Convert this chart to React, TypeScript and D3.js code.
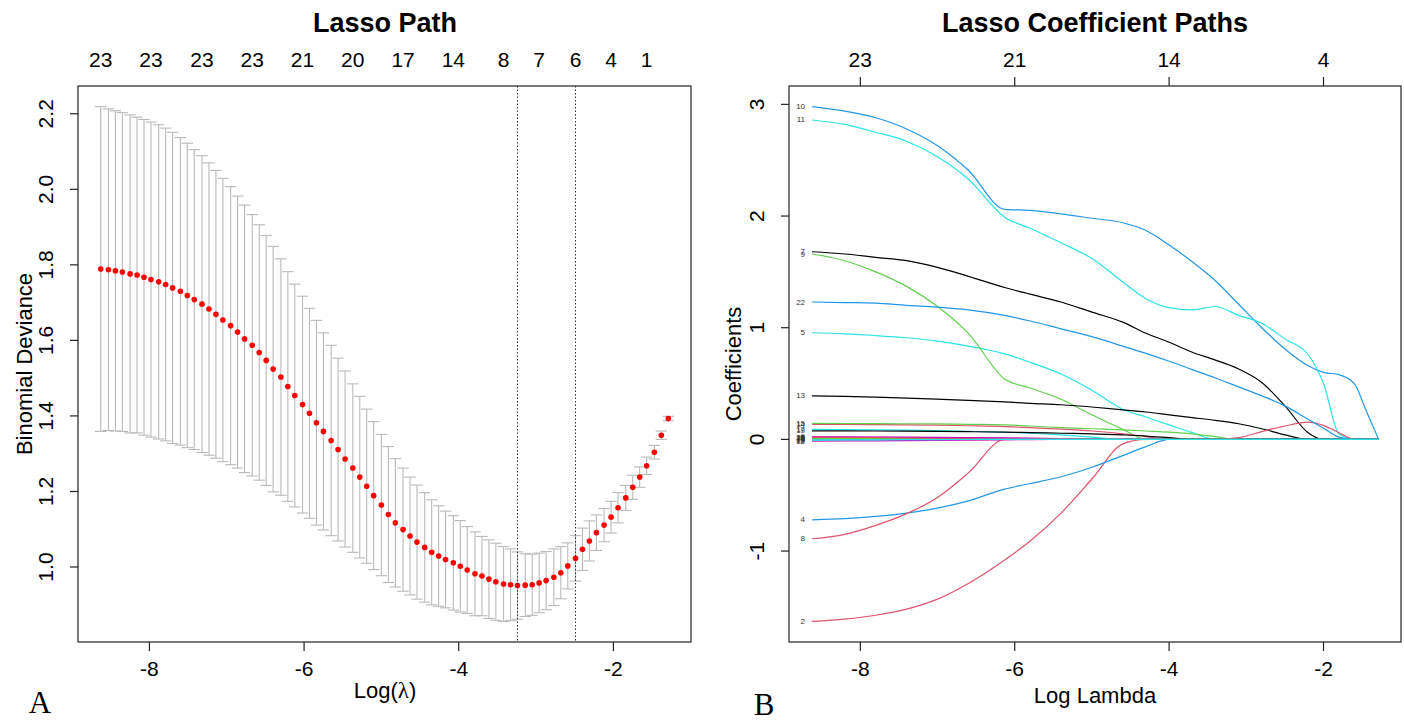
import React, { useRef, useEffect } from 'react';
import * as d3 from 'd3';

// ---- Panel A: cross-validated binomial deviance ----
const logLambda = [
  -8.63, -8.53, -8.44, -8.35, -8.25, -8.16, -8.07, -7.98, -7.88, -7.79,
  -7.70, -7.60, -7.51, -7.42, -7.32, -7.23, -7.14, -7.05, -6.95, -6.86,
  -6.77, -6.67, -6.58, -6.49, -6.40, -6.30, -6.21, -6.12, -6.02, -5.93,
  -5.84, -5.75, -5.65, -5.56, -5.47, -5.37, -5.28, -5.19, -5.10, -5.00,
  -4.91, -4.82, -4.72, -4.63, -4.54, -4.44, -4.35, -4.26, -4.17, -4.07,
  -3.98, -3.89, -3.79, -3.70, -3.61, -3.52, -3.42, -3.33, -3.24, -3.14,
  -3.05, -2.96, -2.87, -2.77, -2.68, -2.59, -2.49, -2.40, -2.31, -2.22,
  -2.12, -2.03, -1.94, -1.84, -1.75, -1.66, -1.57, -1.47, -1.38, -1.29,
];
const cvMean = [
  1.789, 1.787, 1.784, 1.781, 1.776, 1.773, 1.767, 1.761, 1.755, 1.748,
  1.739, 1.730, 1.719, 1.708, 1.696, 1.683, 1.669, 1.654, 1.639, 1.622,
  1.604, 1.587, 1.568, 1.547, 1.524, 1.503, 1.478, 1.454, 1.430, 1.407,
  1.382, 1.359, 1.335, 1.311, 1.286, 1.262, 1.238, 1.214, 1.189, 1.164,
  1.139, 1.117, 1.099, 1.082, 1.066, 1.052, 1.039, 1.029, 1.020, 1.011,
  1.002, 0.992, 0.982, 0.976, 0.968, 0.961, 0.955, 0.953, 0.951, 0.952,
  0.953, 0.958, 0.964, 0.973, 0.985, 1.003, 1.023, 1.047, 1.069, 1.091,
  1.111, 1.132, 1.157, 1.183, 1.211, 1.238, 1.268, 1.304, 1.349, 1.393,
];
const cvSd = [
  0.430, 0.426, 0.424, 0.422, 0.421, 0.418, 0.418, 0.417, 0.416, 0.414,
  0.412, 0.407, 0.403, 0.397, 0.393, 0.387, 0.381, 0.375, 0.368, 0.360,
  0.354, 0.346, 0.338, 0.331, 0.325, 0.313, 0.304, 0.295, 0.287, 0.278,
  0.271, 0.261, 0.252, 0.242, 0.233, 0.223, 0.214, 0.204, 0.196, 0.187,
  0.180, 0.170, 0.163, 0.156, 0.151, 0.145, 0.139, 0.133, 0.128, 0.125,
  0.121, 0.115, 0.111, 0.105, 0.104, 0.102, 0.099, 0.095, 0.089, 0.083,
  0.081, 0.079, 0.077, 0.075, 0.069, 0.061, 0.060, 0.056, 0.053, 0.047,
  0.044, 0.042, 0.040, 0.033, 0.032, 0.027, 0.023, 0.018, 0.011, 0.006,
];
const nzLabelIdx = [0, 7, 14, 21, 28, 35, 42, 49, 56, 61, 66, 71, 76];
const nzLabels = ['23', '23', '23', '23', '21', '20', '17', '14', '8', '7', '6', '4', '1'];
const lambdaMinIdx = 58;
const lambda1seIdx = 66;
const devTicks = [1.0, 1.2, 1.4, 1.6, 1.8, 2.0, 2.2];
const xTicks = [-8, -6, -4, -2];

// ---- Panel B: coefficient paths ----
const pathLogLambda = [
  -8.625, -8.2, -7.8, -7.4, -7.0, -6.6, -6.13, -5.8, -5.4, -5.0, -4.6, -4.3,
  -4.0, -3.7, -3.4, -3.1, -2.8, -2.5, -2.2, -2.0, -1.8, -1.6, -1.45, -1.286,
];
const coef1 = [0.012, 0.011, 0.01, 0.008, 0.006, 0.004, 0.002, 0, 0, 0, 0, 0, 0, 0, 0, 0, 0, 0, 0, 0, 0, 0, 0, 0];
const coef2 = [-1.63, -1.61, -1.575, -1.52, -1.43, -1.29, -1.08, -0.91, -0.66, -0.355, -0.04, 0, 0, 0, 0, 0, 0, 0, 0, 0, 0, 0, 0, 0];
const coef3 = [0.009, 0.008, 0.007, 0.005, 0.003, 0.001, 0, 0, 0, 0, 0, 0, 0, 0, 0, 0, 0, 0, 0, 0, 0, 0, 0, 0];
const coef4 = [-0.72, -0.71, -0.69, -0.66, -0.615, -0.55, -0.445, -0.395, -0.335, -0.25, -0.145, -0.065, 0, 0, 0, 0, 0, 0, 0, 0, 0, 0, 0, 0];
const coef5 = [0.955, 0.945, 0.93, 0.91, 0.88, 0.835, 0.765, 0.69, 0.585, 0.44, 0.27, 0.2, 0.13, 0.06, 0, 0, 0, 0, 0, 0, 0, 0, 0, 0];
const coef6 = [0.023, 0.022, 0.021, 0.02, 0.019, 0.017, 0.014, 0.011, 0.007, 0.003, 0, 0, 0, 0, 0, 0, 0, 0, 0, 0, 0, 0, 0, 0];
const coef7 = [1.68, 1.66, 1.63, 1.6, 1.54, 1.46, 1.36, 1.3, 1.23, 1.14, 1.05, 0.95, 0.87, 0.78, 0.71, 0.63, 0.51, 0.3, 0.06, 0, 0, 0, 0, 0];
const coef8 = [-0.89, -0.85, -0.77, -0.665, -0.52, -0.3, 0, 0, 0, 0, 0, 0, 0, 0, 0, 0, 0, 0, 0, 0, 0, 0, 0, 0];
const coef9 = [1.66, 1.6, 1.5, 1.37, 1.19, 0.95, 0.54, 0.46, 0.36, 0.22, 0.09, 0, 0, 0, 0, 0, 0, 0, 0, 0, 0, 0, 0, 0];
const coef10 = [2.98, 2.94, 2.88, 2.78, 2.63, 2.41, 2.06, 2.05, 2.02, 1.98, 1.94, 1.87, 1.74, 1.59, 1.42, 1.21, 1.0, 0.81, 0.66, 0.6, 0.58, 0.5, 0.26, 0];
const coef11 = [2.86, 2.82, 2.75, 2.67, 2.53, 2.33, 1.99, 1.89, 1.76, 1.62, 1.41, 1.26, 1.18, 1.16, 1.19, 1.11, 1.04, 0.9, 0.76, 0.5, 0.05, 0, 0, 0];
const coef12 = [-0.015, -0.014, -0.013, -0.012, -0.01, -0.008, -0.005, -0.002, 0, 0, 0, 0, 0, 0, 0, 0, 0, 0, 0, 0, 0, 0, 0, 0];
const coef13 = [0.39, 0.385, 0.378, 0.37, 0.36, 0.35, 0.335, 0.323, 0.31, 0.29, 0.265, 0.245, 0.22, 0.195, 0.17, 0.14, 0.095, 0.04, 0, 0, 0, 0, 0, 0];
const coef14 = [0.135, 0.134, 0.132, 0.13, 0.127, 0.122, 0.115, 0.105, 0.092, 0.075, 0.05, 0.025, 0, 0, 0, 0, 0, 0, 0, 0, 0, 0, 0, 0];
const coef15 = [0.143, 0.142, 0.141, 0.14, 0.138, 0.135, 0.13, 0.12, 0.105, 0.095, 0.085, 0.075, 0.065, 0.05, 0.025, 0, 0, 0, 0, 0, 0, 0, 0, 0];
const coef16 = [-0.004, -0.003, -0.002, -0.001, 0, 0, 0, 0, 0, 0, 0, 0, 0, 0, 0, 0, 0, 0, 0, 0, 0, 0, 0, 0];
const coef17 = [0.089, 0.088, 0.086, 0.083, 0.079, 0.073, 0.064, 0.055, 0.04, 0.02, 0, 0, 0, 0, 0, 0, 0, 0, 0, 0, 0, 0, 0, 0];
const coef18 = [0.02, 0.019, 0.018, 0.017, 0.015, 0.013, 0.01, 0.007, 0.003, 0, 0, 0, 0, 0, 0, 0, 0, 0, 0, 0, 0, 0, 0, 0];
const coef19 = [0.077, 0.076, 0.075, 0.074, 0.072, 0.069, 0.065, 0.061, 0.055, 0.05, 0.04, 0.03, 0.015, 0, 0, 0, 0, 0, 0, 0, 0, 0, 0, 0];
const coef20 = [0.02, 0.018, 0.015, 0.012, 0.008, 0.003, 0, 0, 0, 0, 0, 0, 0, 0, 0, 0.015, 0.07, 0.12, 0.155, 0.125, 0.06, 0, 0, 0];
const coef21 = [0.005, 0.004, 0.003, 0.002, 0.001, 0, 0, 0, 0, 0, 0, 0, 0, 0, 0, 0, 0, 0, 0, 0, 0, 0, 0, 0];
const coef22 = [1.23, 1.225, 1.22, 1.2, 1.185, 1.16, 1.11, 1.06, 0.99, 0.92, 0.835, 0.77, 0.7, 0.625, 0.55, 0.47, 0.39, 0.3, 0.18, 0.1, 0.02, 0, 0, 0];
const coef23 = [-0.006, -0.005, -0.004, -0.003, -0.002, -0.001, 0, 0, 0, 0, 0, 0, 0, 0, 0, 0, 0, 0, 0, 0, 0, 0, 0, 0];
const coefPaths = [
  coef1, coef2, coef3, coef4, coef5, coef6, coef7, coef8, coef9, coef10, coef11, coef12,
  coef13, coef14, coef15, coef16, coef17, coef18, coef19, coef20, coef21, coef22, coef23,
];
const dfTickAt = [-8, -6, -4, -2];
const dfTickLabels = ['23', '21', '14', '4'];
const coefTicks = [-1, 0, 1, 2, 3];
// R's default palette, cycled like matplot does
const rPalette = ['#000000', '#DF536B', '#61D04F', '#2297E6', '#28E2E5', '#CD0BBC'];

const SANS = "'Liberation Sans', Arial, Helvetica, sans-serif";
const SERIF = "'Liberation Serif', 'Times New Roman', serif";

const LassoFigure = () => {
  const svgRef = useRef(null);

  useEffect(() => {
    const svg = d3.select(svgRef.current);
    svg.selectAll('*').remove();

    const top = 86;
    const bottom = 642;

    // shared x domain, padded 4% like R
    const [lo, hi] = d3.extent(logLambda);
    const pad = (hi - lo) * 0.04;
    const xDomain = [lo - pad, hi + pad];

    const text = (g, x, y, str, size, opts = {}) => {
      const t = g
        .append('text')
        .attr('x', x)
        .attr('y', y)
        .attr('font-family', opts.family || SANS)
        .attr('font-size', size)
        .attr('font-weight', opts.weight || 'normal')
        .attr('fill', opts.fill || '#000')
        .attr('text-anchor', opts.anchor || 'middle')
        .text(str);
      if (opts.rotate) t.attr('transform', `rotate(-90,${x},${y})`).attr('dominant-baseline', 'central');
      return t;
    };

    // ================= Panel A =================
    const gA = svg.append('g');
    const xA = d3.scaleLinear().domain(xDomain).range([78, 691]);
    const upper = cvMean.map((m, i) => m + cvSd[i]);
    const lower = cvMean.map((m, i) => m - cvSd[i]);
    const yLo = d3.min(lower);
    const yHi = d3.max(upper);
    const yPad = (yHi - yLo) * 0.04;
    const yA = d3.scaleLinear().domain([yLo - yPad, yHi + yPad]).range([bottom, top]);

    const barw = (hi - lo) * 0.01;
    const bars = gA.append('g').attr('stroke', '#b9b9b9').attr('stroke-width', 1.1);
    logLambda.forEach((l, i) => {
      bars.append('line').attr('x1', xA(l)).attr('x2', xA(l)).attr('y1', yA(upper[i])).attr('y2', yA(lower[i]));
      bars.append('line').attr('x1', xA(l - barw)).attr('x2', xA(l + barw)).attr('y1', yA(upper[i])).attr('y2', yA(upper[i]));
      bars.append('line').attr('x1', xA(l - barw)).attr('x2', xA(l + barw)).attr('y1', yA(lower[i])).attr('y2', yA(lower[i]));
    });

    gA.append('g')
      .selectAll('circle')
      .data(cvMean)
      .join('circle')
      .attr('cx', (d, i) => xA(logLambda[i]))
      .attr('cy', d => yA(d))
      .attr('r', 2.8)
      .attr('fill', '#ff0000');

    [lambdaMinIdx, lambda1seIdx].forEach(idx => {
      gA.append('line')
        .attr('x1', xA(logLambda[idx]))
        .attr('x2', xA(logLambda[idx]))
        .attr('y1', top)
        .attr('y2', bottom)
        .attr('stroke', '#333')
        .attr('stroke-width', 1)
        .attr('stroke-dasharray', '1.5,2');
    });

    gA.append('rect')
      .attr('x', 78).attr('y', top).attr('width', 691 - 78).attr('height', bottom - top)
      .attr('fill', 'none').attr('stroke', '#222').attr('stroke-width', 1.2);

    xTicks.forEach(t => {
      gA.append('line').attr('x1', xA(t)).attr('x2', xA(t)).attr('y1', bottom).attr('y2', bottom + 9).attr('stroke', '#222').attr('stroke-width', 1.2);
      text(gA, xA(t), 676, String(t), 21);
    });
    devTicks.forEach(t => {
      gA.append('line').attr('x1', 78).attr('x2', 70).attr('y1', yA(t)).attr('y2', yA(t)).attr('stroke', '#222').attr('stroke-width', 1.2);
      text(gA, 46, yA(t), d3.format('.1f')(t), 21, { rotate: true });
    });
    nzLabelIdx.forEach((idx, k) => {
      text(gA, xA(logLambda[idx]), 67, nzLabels[k], 21);
    });

    text(gA, 385, 32, 'Lasso Path', 27, { weight: 'bold' });
    const xl = text(gA, 385, 698, '', 22);
    xl.append('tspan').text('Log(');
    xl.append('tspan').attr('font-family', SERIF).attr('font-size', 23).text('\u03bb');
    xl.append('tspan').text(')');
    text(gA, 24, (top + bottom) / 2, 'Binomial Deviance', 22, { rotate: true });
    text(gA, 40, 713, 'A', 31, { family: SERIF });

    // ================= Panel B =================
    const gB = svg.append('g');
    const xB = d3.scaleLinear().domain(xDomain).range([789, 1401]);
    const allCoef = coefPaths.flat();
    const cLo = d3.min(allCoef);
    const cHi = d3.max(allCoef);
    const cPad = (cHi - cLo) * 0.04;
    const yB = d3.scaleLinear().domain([cLo - cPad, cHi + cPad]).range([bottom, top]);

    const line = d3
      .line()
      .x((d, i) => xB(pathLogLambda[i]))
      .y(d => yB(d))
      .curve(d3.curveMonotoneX);

    coefPaths.forEach((vals, j) => {
      gB.append('path')
        .datum(vals)
        .attr('d', line)
        .attr('fill', 'none')
        .attr('stroke', rPalette[j % rPalette.length])
        .attr('stroke-width', 1.2);
    });

    coefPaths.forEach((vals, j) => {
      gB.append('text')
        .attr('x', xB(pathLogLambda[0]) - 7)
        .attr('y', yB(vals[0]))
        .attr('dominant-baseline', 'central')
        .attr('text-anchor', 'end')
        .attr('font-family', SANS)
        .attr('font-size', 8)
        .attr('fill', '#333')
        .text(String(j + 1));
    });

    gB.append('rect')
      .attr('x', 789).attr('y', top).attr('width', 1401 - 789).attr('height', bottom - top)
      .attr('fill', 'none').attr('stroke', '#222').attr('stroke-width', 1.2);

    xTicks.forEach(t => {
      gB.append('line').attr('x1', xB(t)).attr('x2', xB(t)).attr('y1', bottom).attr('y2', bottom + 9).attr('stroke', '#222').attr('stroke-width', 1.2);
      text(gB, xB(t), 676, String(t), 21);
    });
    dfTickAt.forEach((t, k) => {
      gB.append('line').attr('x1', xB(t)).attr('x2', xB(t)).attr('y1', top).attr('y2', top - 9).attr('stroke', '#222').attr('stroke-width', 1.2);
      text(gB, xB(t), 67, dfTickLabels[k], 21);
    });
    coefTicks.forEach(t => {
      gB.append('line').attr('x1', 789).attr('x2', 781).attr('y1', yB(t)).attr('y2', yB(t)).attr('stroke', '#222').attr('stroke-width', 1.2);
      text(gB, 757, yB(t), String(t), 21, { rotate: true });
    });

    text(gB, 1095, 32, 'Lasso Coefficient Paths', 27, { weight: 'bold' });
    text(gB, 1095, 703, 'Log Lambda', 22);
    text(gB, 733, (top + bottom) / 2, 'Coefficients', 22, { rotate: true });
    text(gB, 764, 715, 'B', 31, { family: SERIF });
  }, []);

  return (
    <svg
      ref={svgRef}
      width={1404}
      height={723}
      style={{ position: 'absolute', left: 0, top: 0, background: '#fff', display: 'block' }}
    />
  );
};

export default function App() {
  return <LassoFigure />;
}
